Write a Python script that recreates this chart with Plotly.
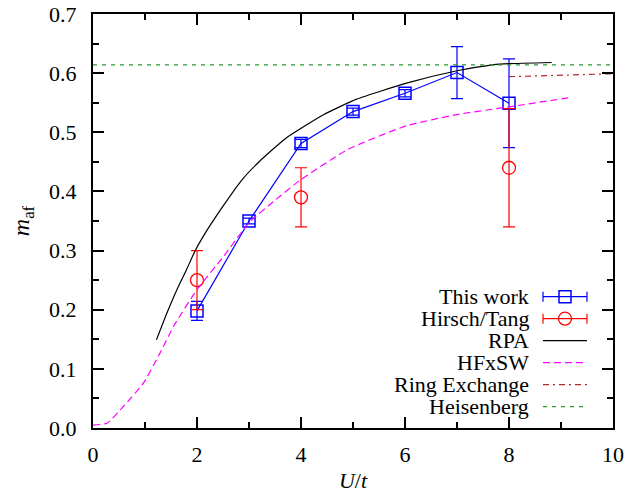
import plotly.graph_objects as go

# ---- data ----
this_x = [2, 3, 4, 5, 6, 7, 8]
this_y = [0.198, 0.350, 0.481, 0.535, 0.566, 0.601, 0.549]
this_err = [0.016, 0.005, 0.007, 0.006, 0.006, 0.044, 0.075]

hirsch_x = [2, 4, 8]
hirsch_y = [0.25, 0.39, 0.44]
hirsch_err = [0.05, 0.05, 0.10]

rpa_x = [1.22, 1.42, 1.62, 1.80, 1.96, 2.12, 2.50, 2.85, 3.18, 3.71, 4.44, 5.07, 6.03, 7.00, 7.69, 8.00, 8.82]
rpa_y = [0.149, 0.194, 0.235, 0.268, 0.299, 0.324, 0.375, 0.418, 0.449, 0.490, 0.530, 0.556, 0.583, 0.604, 0.614, 0.616, 0.618]

hf_x = [0.0, 0.27, 0.59, 0.97, 1.29, 1.55, 2.0, 2.51, 3.0, 3.5, 4.0, 4.9, 6.03, 7.0, 8.0, 9.2]
hf_y = [0.005, 0.008, 0.037, 0.076, 0.127, 0.172, 0.234, 0.290, 0.347, 0.385, 0.420, 0.471, 0.511, 0.530, 0.543, 0.559]

ring_x = [8.0, 10.0]
ring_y = [0.594, 0.599]

heis_x = [0.0, 10.0]
heis_y = [0.614, 0.614]

labels = ["This work", "Hirsch/Tang", "RPA", "HFxSW", "Ring Exchange", "Heisenberg"]

BLUE = "rgb(0,0,255)"
RED = "rgb(255,0,0)"
BLACK = "rgb(0,0,0)"
MAGENTA = "rgb(255,0,255)"
DRED = "rgb(176,40,40)"
GREEN = "rgb(40,150,40)"
FONT = "Liberation Serif"
FS = 22

fig = go.Figure()
fig.add_trace(go.Scatter(
    x=this_x, y=this_y, mode="lines+markers",
    line=dict(color=BLUE, width=1.2),
    marker=dict(symbol="square-open", size=12, color=BLUE, line=dict(width=1.5, color=BLUE)),
    error_y=dict(type="data", array=this_err, color=BLUE, thickness=1.2, width=6),
    showlegend=False))
fig.add_trace(go.Scatter(
    x=hirsch_x, y=hirsch_y, mode="markers",
    marker=dict(symbol="circle-open", size=13, color=RED, line=dict(width=1.3, color=RED)),
    error_y=dict(type="data", array=hirsch_err, color=RED, thickness=1.2, width=6),
    showlegend=False))
fig.add_trace(go.Scatter(x=rpa_x, y=rpa_y, mode="lines",
                         line=dict(color=BLACK, width=1.2, shape="spline", smoothing=0.5),
                         showlegend=False))
fig.add_trace(go.Scatter(x=hf_x, y=hf_y, mode="lines",
                         line=dict(color=MAGENTA, width=1.2, dash="7px,4px", shape="spline", smoothing=0.5),
                         showlegend=False))
fig.add_trace(go.Scatter(x=ring_x, y=ring_y, mode="lines",
                         line=dict(color=DRED, width=1.2, dash="6px,4px,2px,4px"), showlegend=False))
fig.add_trace(go.Scatter(x=heis_x, y=heis_y, mode="lines",
                         line=dict(color=GREEN, width=1.2, dash="4px,5px"), showlegend=False))

# ---- geometry (the page body has an 8px margin) ----
OFF = 8
W, H = 641 - OFF, 493 - OFF
PL, PR, PT, PB = 93, 613, 14, 428          # plot box in window pixels
ML, MR, MT, MB = PL - OFF, W + OFF - PR, PT - OFF, H + OFF - PB
PW, PH = PR - PL, PB - PT

def px(xp):
    return (xp - PL) / PW

def py(yp):
    return (PB - yp) / PH

# ---- manual legend (text left of key, gnuplot style) ----
row0, drow = 296.7, 22.0
text_right = 530
k0, k1 = 543, 587
kc = (k0 + k1) / 2
styles = [
    dict(color=BLUE, dash="solid", err=True, sym="square"),
    dict(color=RED, dash="solid", err=True, sym="circle"),
    dict(color=BLACK, dash="solid", err=False, sym=None),
    dict(color=MAGENTA, dash="7px,4px", err=False, sym=None),
    dict(color=DRED, dash="6px,4px,2px,4px", err=False, sym=None),
    dict(color=GREEN, dash="4px,5px", err=False, sym=None),
]
annotations = []
shapes = []
for i, (lab, st) in enumerate(zip(labels, styles)):
    yy = row0 + i * drow
    annotations.append(dict(
        text=lab, x=px(text_right), y=py(yy), xref="paper", yref="paper",
        xanchor="right", yanchor="middle", showarrow=False, borderpad=0,
        font=dict(family=FONT, size=FS, color="black")))
    shapes.append(dict(type="line", xref="paper", yref="paper",
                       x0=px(k0), x1=px(k1), y0=py(yy), y1=py(yy),
                       line=dict(color=st["color"], width=1.2, dash=st["dash"])))
    if st["err"]:
        for xe in (k0, k1):
            shapes.append(dict(type="line", xref="paper", yref="paper",
                               x0=px(xe), x1=px(xe), y0=py(yy - 5), y1=py(yy + 5),
                               line=dict(color=st["color"], width=1.2)))
    if st["sym"] == "square":
        shapes.append(dict(type="rect", xref="paper", yref="paper",
                           x0=px(kc - 6), x1=px(kc + 6), y0=py(yy - 6), y1=py(yy + 6),
                           line=dict(color=st["color"], width=1.5), fillcolor="rgba(0,0,0,0)"))
    elif st["sym"] == "circle":
        shapes.append(dict(type="circle", xref="paper", yref="paper",
                           x0=px(kc - 6.5), x1=px(kc + 6.5), y0=py(yy - 6.5), y1=py(yy + 6.5),
                           line=dict(color=st["color"], width=1.3), fillcolor="rgba(0,0,0,0)"))

axis_common = dict(
    showline=True, linecolor="black", linewidth=2, mirror="allticks",
    ticks="inside", ticklen=11, tickwidth=1.5, tickcolor="black",
    showgrid=False, zeroline=False, automargin=False,
    ticklabeloverflow="allow",
    tickfont=dict(family=FONT, size=FS, color="black"),
)

fig.update_layout(
    width=W, height=H,
    margin=dict(l=ML, r=MR, t=MT, b=MB, pad=0),
    paper_bgcolor="white", plot_bgcolor="white",
    font=dict(family=FONT, size=FS, color="black"),
    xaxis=dict(range=[0, 10], dtick=2, tick0=0,
               minor=dict(dtick=1, ticks="inside", ticklen=6, tickwidth=1.5, tickcolor="black"),
               title=dict(text="<i>U</i>/<i>t</i>", font=dict(family=FONT, size=FS), standoff=14),
               ticklabelstandoff=6,
               **axis_common),
    yaxis=dict(range=[0, 0.7], dtick=0.1, tick0=0, tickformat=".1f",
               minor=dict(dtick=0.05, ticks="inside", ticklen=6, tickwidth=1.5, tickcolor="black"),
               title=dict(text="<i>m</i><sub>af</sub>", font=dict(family=FONT, size=FS + 2), standoff=22),
               ticklabelstandoff=10,
               **axis_common),
    annotations=annotations,
    shapes=shapes,
)

fig.write_html("out.html")
